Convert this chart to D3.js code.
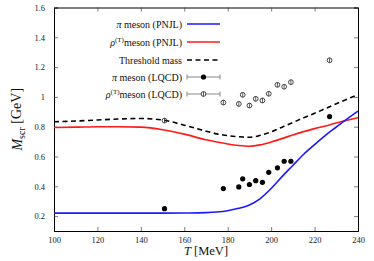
<!DOCTYPE html>
<html>
<head>
<meta charset="utf-8">
<script src="https://cdn.jsdelivr.net/npm/d3@7"></script>
<style>
  body { margin: 0; background: #fff; }
  svg { display: block; }
  svg text { font-family: 'Liberation Serif', 'Times New Roman', serif; }
</style>
</head>
<body>
<svg id="chart" width="374" height="261"></svg>
<script>
// PNJL curves
const T_CURVE = [100, 110, 120, 130, 140, 150, 160, 170, 175, 180, 185, 190, 195, 200, 205, 210, 215, 220, 225, 230, 235, 240]
const PI_PNJL = [0.22, 0.22, 0.22, 0.22, 0.22, 0.22, 0.221, 0.223, 0.227, 0.236, 0.252, 0.275, 0.318, 0.385, 0.465, 0.54, 0.615, 0.68, 0.742, 0.798, 0.853, 0.905]
const RHO_PNJL = [0.795, 0.797, 0.8, 0.8, 0.797, 0.78, 0.75, 0.712, 0.697, 0.684, 0.674, 0.669, 0.678, 0.697, 0.72, 0.745, 0.767, 0.787, 0.805, 0.825, 0.843, 0.86]
const THRESHOLD = [0.833, 0.838, 0.845, 0.852, 0.855, 0.845, 0.81, 0.77, 0.752, 0.74, 0.733, 0.729, 0.742, 0.765, 0.797, 0.828, 0.86, 0.89, 0.922, 0.954, 0.985, 1.016]

// lattice QCD points
const T_LQCD = [150.9, 178, 185.1, 186.9, 190, 192.9, 196, 198.9, 202.9, 206, 209.1, 226.9]
const PI_LQCD = [0.25, 0.385, 0.396, 0.45, 0.412, 0.438, 0.427, 0.494, 0.524, 0.568, 0.568, 0.868]
const RHO_LQCD = [0.841, 0.962, 0.953, 1.014, 0.942, 0.987, 0.976, 1.021, 1.081, 1.068, 1.099, 1.246]

const X_TICKS = [100, 120, 140, 160, 180, 200, 220, 240]
const Y_TICKS = [0.2, 0.4, 0.6, 0.8, 1, 1.2, 1.4, 1.6]

const PL = 54, PR = 358, PT = 7.5, PB = 231
const SERIF = 'Liberation Serif'

const svg = d3.select('#chart')
const x = d3.scaleLinear().domain([100, 240]).range([PL, PR])
const y = d3.scaleLinear().domain([0.1, 1.6]).range([PB, PT])

svg.append('clipPath').attr('id', 'clip')
  .append('rect')
  .attr('x', PL).attr('y', PT)
  .attr('width', PR - PL).attr('height', PB - PT)

// axes with inward ticks
svg.append('g')
  .attr('transform', `translate(0,${PB})`)
  .call(d3.axisBottom(x).tickValues(X_TICKS).tickSize(-4).tickPadding(6).tickFormat(d3.format('d')))
svg.append('g')
  .attr('transform', `translate(0,${PT})`)
  .call(d3.axisTop(x).tickValues(X_TICKS).tickSize(-4).tickFormat(''))
svg.append('g')
  .attr('transform', `translate(${PL},0)`)
  .call(d3.axisLeft(y).tickValues(Y_TICKS).tickSize(-4).tickPadding(9).tickFormat(d => d3.format('~g')(d)))
svg.append('g')
  .attr('transform', `translate(${PR},0)`)
  .call(d3.axisRight(y).tickValues(Y_TICKS).tickSize(-4).tickFormat(''))

svg.selectAll('.domain').attr('stroke', '#000').attr('stroke-width', 1)
svg.selectAll('.tick line').attr('stroke', '#444').attr('stroke-width', 0.7)
svg.selectAll('.tick text')
  .attr('font-family', SERIF)
  .attr('font-size', 8.5)
  .attr('fill', '#222')

const plot = svg.append('g').attr('clip-path', 'url(#clip)')

const line = d3.line()
  .x(d => x(d[0]))
  .y(d => y(d[1]))
  .curve(d3.curveMonotoneX)

plot.append('path')
  .datum(T_CURVE.map((t, i) => [t, THRESHOLD[i]]))
  .attr('fill', 'none')
  .attr('stroke', '#000')
  .attr('stroke-width', 1.6)
  .attr('stroke-dasharray', '5,3.5')
  .attr('d', line)

plot.append('path')
  .datum(T_CURVE.map((t, i) => [t, RHO_PNJL[i]]))
  .attr('fill', 'none')
  .attr('stroke', '#ff1a1a')
  .attr('stroke-width', 1.6)
  .attr('d', line)

plot.append('path')
  .datum(T_CURVE.map((t, i) => [t, PI_PNJL[i]]))
  .attr('fill', 'none')
  .attr('stroke', '#1a1aff')
  .attr('stroke-width', 1.6)
  .attr('d', line)

// pi LQCD, filled dots
plot.selectAll('.pi-pt')
  .data(T_LQCD.map((t, i) => [t, PI_LQCD[i]]))
  .enter().append('circle')
  .attr('cx', d => x(d[0]))
  .attr('cy', d => y(d[1]))
  .attr('r', 2.6)
  .attr('fill', '#000')

// rho LQCD, open circles with error tick
const rhoPts = plot.selectAll('.rho-pt')
  .data(T_LQCD.map((t, i) => [t, RHO_LQCD[i]]))
  .enter().append('g')
  .attr('transform', d => `translate(${x(d[0])},${y(d[1])})`)
rhoPts.append('circle')
  .attr('r', 2.4)
  .attr('fill', 'none')
  .attr('stroke', '#333')
  .attr('stroke-width', 0.9)
rhoPts.append('line')
  .attr('y1', -2.4).attr('y2', 2.4)
  .attr('stroke', '#333')
  .attr('stroke-width', 0.8)

// legend
const legend = svg.append('g')
const legRows = [24, 42, 60, 77, 94]
const lx0 = 187, lx1 = 220, tx = 182

function label (row, parts) {
  const t = legend.append('text')
    .attr('x', tx).attr('y', legRows[row]).attr('dy', '0.35em')
    .attr('text-anchor', 'end')
    .attr('font-family', SERIF)
    .attr('font-size', 10)
    .attr('fill', '#111')
  parts.forEach(p => {
    const s = t.append('tspan').text(p.t)
    if (p.i) s.attr('font-style', 'italic')
    if (p.sup) s.attr('font-size', 7).attr('dy', '-0.45em')
    if (p.down) s.attr('dy', '0.35em')
  })
}

label(0, [{ t: 'π', i: true }, { t: ' meson (PNJL)' }])
label(1, [{ t: 'ρ', i: true }, { t: '(T)', sup: true }, { t: 'meson (PNJL)', down: true }])
label(2, [{ t: 'Threshold mass' }])
label(3, [{ t: 'π', i: true }, { t: ' meson (LQCD)' }])
label(4, [{ t: 'ρ', i: true }, { t: '(T)', sup: true }, { t: 'meson (LQCD)', down: true }])

legend.append('line').attr('x1', lx0).attr('x2', lx1).attr('y1', legRows[0]).attr('y2', legRows[0])
  .attr('stroke', '#1a1aff').attr('stroke-width', 1.6)
legend.append('line').attr('x1', lx0).attr('x2', lx1).attr('y1', legRows[1]).attr('y2', legRows[1])
  .attr('stroke', '#ff1a1a').attr('stroke-width', 1.6)
legend.append('line').attr('x1', lx0).attr('x2', lx1).attr('y1', legRows[2]).attr('y2', legRows[2])
  .attr('stroke', '#000').attr('stroke-width', 1.6).attr('stroke-dasharray', '5,3.5')

;[3, 4].forEach(r => {
  const yy = legRows[r]
  legend.append('line').attr('x1', lx0).attr('x2', lx1).attr('y1', yy).attr('y2', yy)
    .attr('stroke', '#888').attr('stroke-width', 1)
  ;[lx0, lx1].forEach(cx => legend.append('line')
    .attr('x1', cx).attr('x2', cx).attr('y1', yy - 2.5).attr('y2', yy + 2.5)
    .attr('stroke', '#888').attr('stroke-width', 1))
})
legend.append('circle').attr('cx', (lx0 + lx1) / 2).attr('cy', legRows[3]).attr('r', 2.6).attr('fill', '#000')
legend.append('circle').attr('cx', (lx0 + lx1) / 2).attr('cy', legRows[4]).attr('r', 2.4)
  .attr('fill', '#fff').attr('stroke', '#333').attr('stroke-width', 0.9)
legend.append('line').attr('x1', (lx0 + lx1) / 2).attr('x2', (lx0 + lx1) / 2)
  .attr('y1', legRows[4] - 2.4).attr('y2', legRows[4] + 2.4)
  .attr('stroke', '#333').attr('stroke-width', 0.8)

// axis titles
const xt = svg.append('text')
  .attr('x', (PL + PR) / 2).attr('y', 255)
  .attr('text-anchor', 'middle')
  .attr('font-family', SERIF)
  .attr('font-size', 12.5)
  .attr('fill', '#111')
xt.append('tspan').attr('font-style', 'italic').text('T')
xt.append('tspan').text(' [MeV]')

const yt = svg.append('text')
  .attr('transform', `translate(22,${(PT + PB) / 2}) rotate(-90)`)
  .attr('text-anchor', 'middle')
  .attr('font-family', SERIF)
  .attr('font-size', 14)
  .attr('fill', '#111')
yt.append('tspan').attr('font-style', 'italic').text('M')
yt.append('tspan').attr('font-size', 10).attr('dy', '0.3em').text('scr')
yt.append('tspan').attr('dy', '-0.3em').text(' [GeV]')
</script>
</body>
</html>
